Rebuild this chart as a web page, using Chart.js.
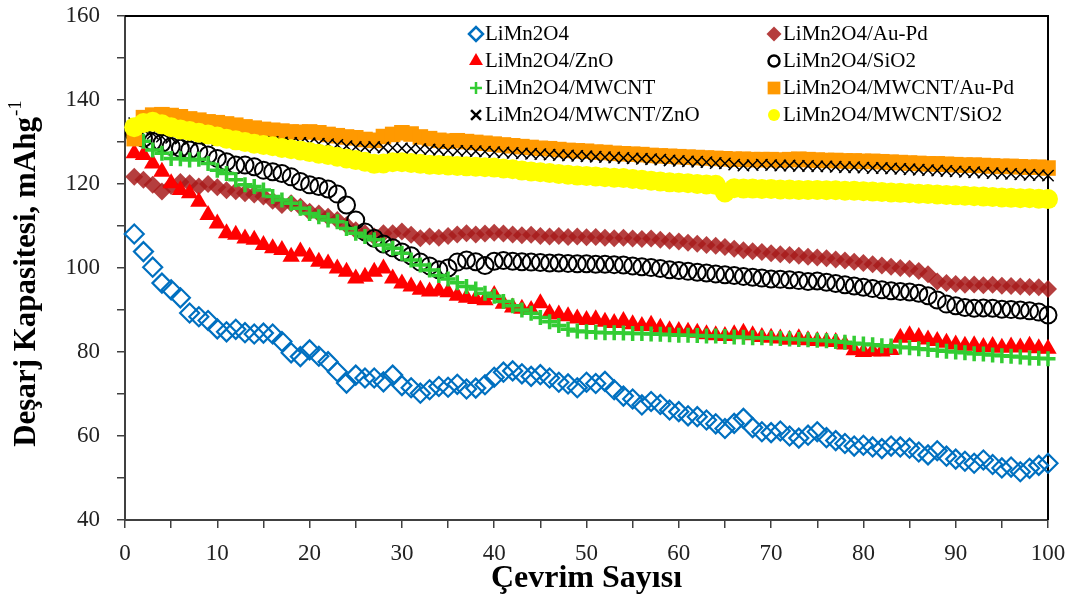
<!DOCTYPE html>
<html>
<head>
<meta charset="utf-8">
<script src="https://cdn.jsdelivr.net/npm/chart.js@4.4.1/dist/chart.umd.min.js"></script>
<style>
  html, body { margin: 0; padding: 0; background: #fff; }
  #wrap { width: 1073px; height: 603px; }
</style>
</head>
<body>
<div id="wrap"><canvas id="capacity" width="1073" height="603"></canvas></div>
<script>
// cycle numbers (x)
const cycles = [
  1, 2, 3, 4, 5, 6, 7, 8, 9, 10, 11, 12, 13, 14, 15, 16, 17, 18, 19, 20,
  21, 22, 23, 24, 25, 26, 27, 28, 29, 30, 31, 32, 33, 34, 35, 36, 37, 38, 39, 40,
  41, 42, 43, 44, 45, 46, 47, 48, 49, 50, 51, 52, 53, 54, 55, 56, 57, 58, 59, 60,
  61, 62, 63, 64, 65, 66, 67, 68, 69, 70, 71, 72, 73, 74, 75, 76, 77, 78, 79, 80,
  81, 82, 83, 84, 85, 86, 87, 88, 89, 90, 91, 92, 93, 94, 95, 96, 97, 98, 99, 100
];

// discharge capacity, mAh/g
const limn2o4 = [
  108.1, 103.9, 100.2, 96.4, 94.8, 92.9, 89.3, 88.4, 87.5, 85.5,
  84.8, 85.4, 84.6, 84.3, 84.5, 84.3, 82.5, 79.8, 78.9, 80.5,
  79.0, 77.7, 75.3, 72.6, 74.5, 73.8, 73.8, 72.9, 74.5, 72.0,
  71.5, 70.2, 71.0, 71.8, 71.6, 72.3, 71.2, 71.4, 72.2, 74.0,
  75.2, 75.5, 74.8, 74.2, 74.6, 73.8, 72.8, 72.4, 71.5, 72.8,
  72.5, 73.0, 71.0, 69.5, 68.8, 67.4, 68.2, 67.5, 66.2, 65.8,
  64.8, 64.6, 63.8, 62.9, 61.8, 63.0, 64.2, 62.0, 61.0, 60.8,
  61.2, 60.0, 59.5, 60.2, 61.0, 59.6, 58.9, 58.2, 57.6, 57.8,
  57.4, 57.0, 57.6, 57.4, 57.1, 56.2, 55.5, 56.5, 55.2, 54.5,
  54.0, 53.5, 54.3, 53.2, 52.4, 52.6, 51.5, 52.3, 53.0, 53.5
];
const auPd = [
  121.7, 121.0, 119.8, 118.2, 119.5, 120.5, 120.2, 119.4, 120.0, 119.2,
  118.5, 118.3, 117.8, 117.5, 117.0, 116.0, 115.0, 115.4, 114.6, 113.4,
  113.0, 112.2, 111.4, 110.2, 109.0, 108.3, 107.5, 108.3, 108.3, 108.7,
  107.9, 107.1, 107.5, 107.2, 107.6, 108.0, 108.3, 108.0, 108.2, 108.4,
  108.2, 108.0, 107.8, 107.9, 107.6, 107.5, 107.6, 107.4, 107.5, 107.3,
  107.4, 107.2, 107.1, 107.2, 107.0, 106.9, 107.0, 106.7, 106.5, 106.3,
  106.0, 105.8, 105.5, 105.3, 105.0, 104.6, 104.2, 104.0, 103.8, 103.5,
  103.3, 103.1, 102.9, 102.7, 102.5, 102.3, 102.0, 101.8, 101.5, 101.2,
  100.9, 100.6, 100.3, 100.0, 99.8, 99.3, 98.5, 96.8, 96.4, 96.2,
  96.0, 96.1, 95.9, 96.0, 95.8, 95.7, 95.6, 95.5, 95.4, 95.0
];
const zno = [
  127.3, 126.9, 124.9, 122.9, 120.2, 118.6, 117.8, 115.8, 112.6, 110.6,
  108.3, 107.9, 107.0, 106.7, 105.5, 104.7, 104.3, 102.7, 103.9, 102.7,
  101.5, 101.1, 99.9, 99.1, 97.5, 97.9, 99.1, 99.9, 97.5, 96.3,
  95.6, 94.8, 94.4, 94.6, 94.2, 93.4, 92.9, 92.6, 92.3, 93.6,
  91.5, 90.6, 90.3, 90.0, 91.6, 89.2, 88.9, 88.5, 88.0, 87.6,
  87.8, 87.2, 86.9, 87.4, 86.6, 86.2, 86.5, 85.8, 85.2, 85.0,
  84.8, 84.6, 84.2, 84.0, 83.8, 84.2, 84.6, 84.0, 83.6, 83.4,
  83.2, 82.9, 83.3, 82.8, 82.6, 82.5, 82.4, 81.8, 80.4, 80.0,
  80.2, 80.1, 80.5, 83.4, 84.0, 83.6, 83.0, 82.6, 82.2, 81.8,
  81.5, 81.6, 81.2, 81.4, 81.0, 81.3, 81.1, 81.5, 80.9, 80.8
];
const sio2 = [
  132.0, 130.9, 130.1, 129.7, 128.9, 128.5, 128.1, 127.7, 126.9, 126.1,
  125.3, 124.5, 124.5, 124.1, 123.3, 122.9, 122.5, 121.7, 120.6, 119.8,
  119.4, 118.8, 117.6, 115.0, 111.4, 108.6, 107.1, 105.7, 104.8, 103.8,
  102.9, 101.4, 100.5, 99.6, 100.0, 101.4, 101.9, 101.5, 100.6, 101.6,
  101.8, 101.6, 101.5, 101.4, 101.3, 101.2, 101.2, 101.1, 101.0, 101.0,
  100.9, 100.9, 100.8, 100.7, 100.5, 100.3, 100.1, 99.9, 99.6, 99.4,
  99.2, 99.0, 98.8, 98.6, 98.4, 98.2, 98.0, 97.8, 97.6, 97.4,
  97.3, 97.2, 97.0, 96.8, 96.9, 96.6, 96.3, 96.0, 95.7, 95.4,
  95.1, 94.8, 94.6, 94.4, 94.3, 94.0, 93.4, 92.4, 91.4, 91.0,
  90.6, 90.4, 90.5, 90.4, 90.2, 90.1, 90.0, 89.8, 89.5, 88.8
];
const mwcnt = [
  131.0, 130.2, 128.1, 127.3, 126.1, 126.0, 125.7, 125.9, 124.9, 123.3,
  122.5, 121.0, 119.8, 119.4, 118.6, 117.0, 116.2, 115.4, 114.2, 113.0,
  112.2, 111.4, 111.0, 109.4, 108.3, 107.5, 106.7, 105.5, 104.7, 103.5,
  101.9, 100.7, 99.5, 98.2, 97.4, 96.5, 95.6, 95.0, 94.0, 93.3,
  92.0, 91.0, 90.0, 89.2, 88.2, 87.2, 86.3, 85.4, 85.0, 84.8,
  84.7, 84.6, 84.6, 84.5, 84.4, 84.4, 84.3, 84.2, 84.1, 84.0,
  84.0, 83.9, 83.8, 83.8, 83.7, 83.6, 83.5, 83.4, 83.4, 83.3,
  83.2, 83.1, 83.0, 82.9, 82.8, 82.7, 82.5, 82.3, 82.1, 81.9,
  81.7, 81.5, 81.4, 81.2, 81.0, 80.8, 80.6, 80.4, 80.2, 80.0,
  79.8, 79.6, 79.5, 79.3, 79.1, 79.0, 78.8, 78.6, 78.5, 78.4
];
const mwcntAuPd = [
  130.8, 135.8, 136.4, 136.5, 136.3, 136.0, 135.5, 135.2, 134.8, 134.6,
  134.3, 134.0, 133.6, 133.3, 133.0, 132.8, 132.6, 132.4, 132.3, 132.4,
  132.2, 131.8, 131.5, 131.2, 131.0, 130.6, 130.4, 131.3, 131.8, 132.2,
  131.9, 131.2, 130.8, 130.4, 130.2, 130.3, 130.1, 129.9, 129.7, 129.5,
  129.3, 129.1, 128.9, 128.7, 128.5, 128.4, 128.2, 128.0, 127.9, 127.8,
  127.6, 127.5, 127.3, 127.2, 127.1, 127.0, 126.8, 126.7, 126.6, 126.5,
  126.4, 126.3, 126.2, 126.1, 126.0, 125.9, 125.9, 125.8, 125.8, 125.8,
  125.7, 125.8, 125.9, 125.8, 125.7, 125.6, 125.6, 125.5, 125.5, 125.4,
  125.4, 125.3, 125.2, 125.1, 125.0, 124.9, 124.8, 124.8, 124.7, 124.6,
  124.5, 124.5, 124.4, 124.3, 124.2, 124.2, 124.1, 124.0, 124.0, 123.8
];
const mwcntZno = [
  134.5, 133.0, 132.0, 131.3, 131.0, 130.8, 130.7, 130.6, 130.5, 130.4,
  130.3, 130.2, 130.2, 130.1, 130.0, 130.0, 129.9, 129.8, 129.8, 129.7,
  129.6, 129.5, 129.3, 129.0, 128.8, 128.7, 128.8, 128.7, 128.6, 128.5,
  128.4, 128.3, 128.2, 128.1, 128.0, 127.9, 127.9, 127.8, 127.7, 127.6,
  127.5, 127.4, 127.3, 127.2, 127.1, 127.0, 126.9, 126.8, 126.7, 126.6,
  126.5, 126.4, 126.3, 126.2, 126.1, 126.0, 125.9, 125.8, 125.6, 125.5,
  125.4, 125.3, 125.2, 125.0, 124.9, 124.6, 124.4, 124.5, 124.6, 124.5,
  124.4, 124.4, 124.3, 124.3, 124.2, 124.2, 124.1, 124.0, 124.0, 123.9,
  123.8, 123.8, 123.7, 123.6, 123.5, 123.4, 123.3, 123.2, 123.1, 123.0,
  122.9, 122.8, 122.7, 122.6, 122.5, 122.4, 122.3, 122.2, 122.1, 122.0
];
const mwcntSio2 = [
  133.5, 134.5, 134.8, 134.2, 133.5, 133.0, 132.6, 132.2, 131.8, 131.3,
  130.8, 130.4, 130.0, 129.6, 129.3, 129.0, 128.6, 128.3, 128.0, 127.6,
  127.2, 126.9, 126.5, 126.1, 125.7, 125.3, 124.8, 124.9, 125.2, 125.2,
  125.0, 124.8, 124.6, 124.5, 124.4, 124.3, 124.2, 124.1, 124.0, 123.9,
  123.7, 123.5, 123.2, 123.0, 122.8, 122.6, 122.4, 122.2, 122.0, 121.9,
  121.8, 121.6, 121.5, 121.4, 121.2, 121.0, 120.8, 120.6, 120.4, 120.3,
  120.2, 120.0, 119.9, 119.8, 118.0, 119.0, 118.9, 118.9, 118.8, 118.8,
  118.7, 118.7, 118.6, 118.6, 118.6, 118.5, 118.5, 118.4, 118.4, 118.3,
  118.2, 118.1, 118.0, 117.9, 117.8, 117.7, 117.6, 117.5, 117.4, 117.3,
  117.2, 117.1, 117.0, 116.9, 116.8, 116.7, 116.6, 116.6, 116.5, 116.4
];

const seriesLabels = [
  'LiMn2O4', 'LiMn2O4/Au-Pd',
  'LiMn2O4/ZnO', 'LiMn2O4/SiO2',
  'LiMn2O4/MWCNT', 'LiMn2O4/MWCNT/Au-Pd',
  'LiMn2O4/MWCNT/ZnO', 'LiMn2O4/MWCNT/SiO2'
];
const seriesValues = [limn2o4, auPd, zno, sio2, mwcnt, mwcntAuPd, mwcntZno, mwcntSio2];

// marker look per series (same order as the labels)
const NONE = 'rgba(0,0,0,0)';
const markers = [
  { style: 'rectRot',  radius: 9.5, fill: NONE,                   line: '#0070C0', width: 2.2, legendWidth: 2.5, legendRadius: 7 },
  { style: 'rectRot',  radius: 9,   fill: 'rgba(168,28,28,0.85)', line: NONE,      width: 0,   legendWidth: 0,   legendRadius: 7.5 },
  { style: 'triangle', radius: 10,  fill: '#FF0000',              line: NONE,      width: 0,   legendWidth: 0,   legendRadius: 8 },
  { style: 'circle',   radius: 8.5, fill: NONE,                   line: '#000000', width: 2,   legendWidth: 2.5, legendRadius: 5.5 },
  { style: 'cross',    radius: 7.5, fill: NONE,                   line: '#33CC33', width: 3.5, legendWidth: 2.5, legendRadius: 6 },
  { style: 'rect',     radius: 11,  fill: '#FF9900',              line: NONE,      width: 0,   legendWidth: 0,   legendRadius: 9 },
  { style: 'crossRot', radius: 8,   fill: NONE,                   line: '#000000', width: 1.5, legendWidth: 2.5, legendRadius: 7 },
  { style: 'circle',   radius: 10,  fill: '#FFFF00',              line: NONE,      width: 0,   legendWidth: 0,   legendRadius: 6 }
];

const serif = "'Liberation Serif', 'Times New Roman', serif";

const datasets = seriesLabels.map((label, i) => ({
  label: label,
  data: cycles.map((c, k) => ({ x: c, y: seriesValues[i][k] })),
  pointStyle: markers[i].style,
  pointRadius: markers[i].radius,
  pointHoverRadius: markers[i].radius,
  backgroundColor: markers[i].fill,
  borderColor: markers[i].line,
  borderWidth: markers[i].width,
  showLine: false,
  clip: false,
  // later series sit on top
  order: seriesLabels.length - i
}));

// top and right edges of the plot frame
const plotFrame = {
  id: 'plotFrame',
  beforeDatasetsDraw(chart) {
    const { ctx, chartArea: a } = chart;
    ctx.save();
    ctx.strokeStyle = '#000';
    ctx.lineWidth = 2;
    ctx.beginPath();
    ctx.moveTo(a.left, a.top);
    ctx.lineTo(a.right, a.top);
    ctx.lineTo(a.right, a.bottom);
    ctx.stroke();
    ctx.restore();
  }
};

// two-column legend inside the plot
const innerLegend = {
  id: 'innerLegend',
  afterDraw(chart) {
    const { ctx, chartArea: a } = chart;
    ctx.save();
    ctx.textBaseline = 'middle';
    ctx.textAlign = 'left';
    chart.data.datasets.forEach((ds, i) => {
      const col = i % 2;
      const row = Math.floor(i / 2);
      const x = a.left + (col ? 649 : 351);
      const y = a.top + 18 + row * 27;
      const m = markers[i];
      ctx.fillStyle = m.fill;
      ctx.strokeStyle = m.line;
      ctx.lineWidth = m.legendWidth;
      Chart.helpers.drawPoint(ctx, { pointStyle: m.style, radius: m.legendRadius, borderWidth: m.legendWidth, rotation: 0 }, x, y);
      ctx.fillStyle = '#000';
      ctx.font = '21px ' + serif;
      ctx.fillText(ds.label, x + 9, y);
    });
    ctx.restore();
  }
};

// rotated y title with the superscript unit
const yTitle = {
  id: 'yTitle',
  afterDraw(chart) {
    const { ctx, chartArea: a } = chart;
    const main = 'Deşarj Kapasitesi, mAhg';
    const sup = '-1';
    ctx.save();
    ctx.translate(27, (a.top + a.bottom) / 2 + 6);
    ctx.rotate(-Math.PI / 2);
    ctx.fillStyle = '#000';
    ctx.textBaseline = 'middle';
    ctx.textAlign = 'left';
    ctx.font = 'bold 31px ' + serif;
    const w1 = ctx.measureText(main).width;
    ctx.font = '19px ' + serif;
    const w2 = ctx.measureText(sup).width;
    const x0 = -(w1 + w2) / 2;
    ctx.font = 'bold 31px ' + serif;
    ctx.fillText(main, x0, 0);
    ctx.font = '19px ' + serif;
    ctx.fillText(sup, x0 + w1 + 1, -11);
    ctx.restore();
  }
};

new Chart(document.getElementById('capacity'), {
  type: 'scatter',
  data: { datasets: datasets },
  plugins: [plotFrame, innerLegend, yTitle],
  options: {
    responsive: false,
    devicePixelRatio: 1,
    animation: false,
    layout: { padding: { top: 16, right: 25, left: 0, bottom: 0 } },
    plugins: {
      legend: { display: false },
      tooltip: { enabled: false }
    },
    scales: {
      x: {
        type: 'linear',
        min: 0,
        max: 100,
        ticks: {
          stepSize: 5,
          color: '#222',
          padding: 12,
          font: { family: serif, size: 23 },
          callback: v => (v % 10 === 0 ? v : '')
        },
        grid: { drawOnChartArea: false, color: '#404040', lineWidth: 1.5, tickLength: 8 },
        border: { color: '#404040', width: 2 },
        title: {
          display: true,
          text: 'Çevrim Sayısı',
          color: '#000',
          font: { family: serif, size: 32, weight: 'bold' },
          padding: { top: 0, bottom: 5 }
        },
        afterFit: s => { s.height = 83; s.paddingLeft = 0; s.paddingRight = 0; }
      },
      y: {
        min: 40,
        max: 160,
        ticks: {
          stepSize: 10,
          color: '#222',
          padding: 17,
          font: { family: serif, size: 23 },
          callback: v => (v % 20 === 0 ? v : '')
        },
        grid: { drawOnChartArea: false, color: '#404040', lineWidth: 1.5, tickLength: 8 },
        border: { color: '#404040', width: 2 },
        afterFit: s => { s.width = 125; s.paddingTop = 0; s.paddingBottom = 0; }
      }
    }
  }
});
</script>
</body>
</html>
